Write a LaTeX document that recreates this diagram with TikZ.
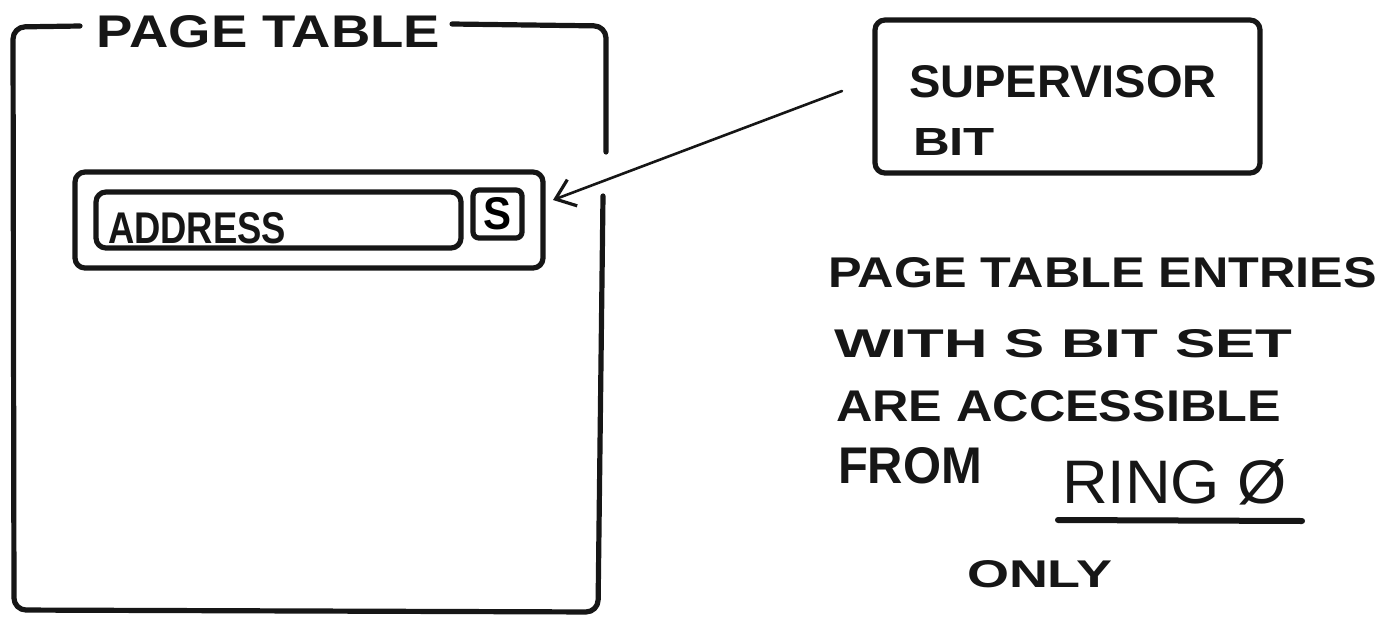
\documentclass[tikz,border=0pt]{standalone}
\usepackage{fontspec}
\newfontfamily\hand{Liberation Sans}
\usetikzlibrary{arrows.meta,calc}
\definecolor{inkc}{HTML}{161616}
\newcommand\hw[3]{\resizebox{#1pt}{#2pt}{\hand\bfseries #3}}
\newcommand\hwr[3]{\resizebox{#1pt}{#2pt}{\hand #3}}
\begin{document}
\begin{tikzpicture}[x=0.5pt,y=-0.5pt,
  ink/.style={draw=inkc,line width=2.6pt,line cap=round,line join=round},
  box/.style={ink,rounded corners=5pt,inner sep=0pt,outer sep=0pt},
  txt/.style={text=inkc,inner sep=0pt,outer sep=0pt,anchor=base west}]
\useasboundingbox (0,0) rectangle (1389,622);

% page table frame and title
\node[txt] (title) at (97,47) {\hw{171.5}{16}{PAGE TABLE}};
\draw[ink,rounded corners=6pt] ($(title.base west)+(-17,-21)$) -- (13,27) -- (14,610) -- (598,612) -- (603,196);
\draw[ink,rounded corners=6pt] ($(title.base east)+(12,-23)$) -- (606,26) -- (606,152);

% page table entry
\node[box,minimum width=234pt,minimum height=48pt] (entry) at (309,220) {};
\node[box,minimum width=182.5pt,minimum height=28pt] (addr) at (278.5,220) {};
\node[txt] (addrtxt) at (108,243) {\hw{89}{15.5}{ADDRESS}};
\node[box,rounded corners=3pt,minimum width=24.5pt,minimum height=24pt] (sbox) at (497.5,214) {\hw{14}{16}{S}};

% supervisor bit box
\node[box,minimum width=192.5pt,minimum height=76.5pt] (sup) at (1067.5,96.5) {};
\node[txt] (suptxt) at (909,97) {\hw{154}{16}{SUPERVISOR}};
\node[txt] (bittxt) at (913,155) {\hw{41}{13.5}{BIT}};

% arrow
\coordinate (astart) at (842,91);
\draw[draw=inkc,line width=1.3pt,line cap=round,-{Straight Barb[length=9pt,width=14pt,line width=1.6pt]}] (astart) -- ($(entry.north east)+(10,28)$);

% explanation
\node[txt] (l1) at (828,287) {\hw{274.5}{15}{PAGE TABLE ENTRIES}};
\node[txt] (l2) at (834,357) {\hw{229}{14}{WITH S BIT SET}};
\node[txt] (l3) at (836,421) {\hw{222.5}{15.5}{ARE ACCESSIBLE}};
\node[txt] (l4) at (838,483) {\hw{72}{18}{FROM}};
\node[txt] (ring) at (1062,503) {\hwr{112.5}{22}{RING Ø}};
\draw[ink,line width=3pt] ($(ring.base west)+(-4,17)$) -- ($(ring.base east)+(15,18)$);
\node[txt] (only) at (967,587) {\hw{72.5}{13.5}{ONLY}};
\end{tikzpicture}
\end{document}
